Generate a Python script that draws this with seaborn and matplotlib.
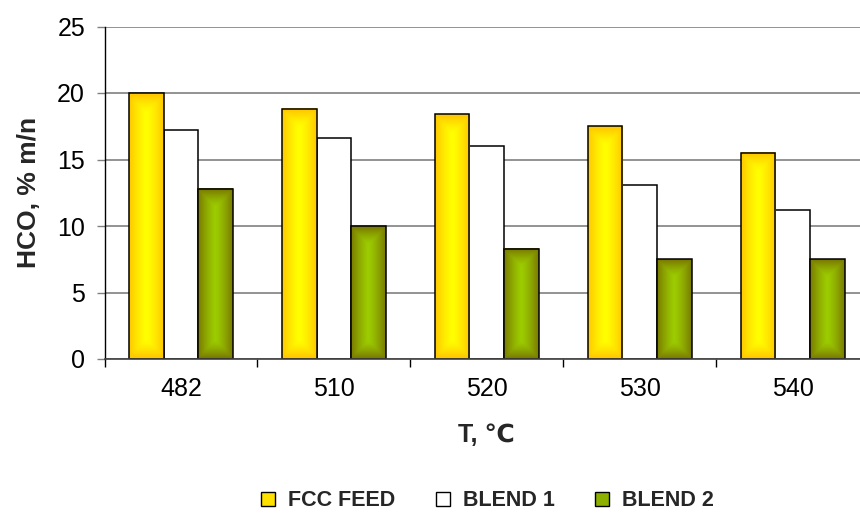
import numpy as np
import pandas as pd
import matplotlib
matplotlib.use("Agg")
import matplotlib.pyplot as plt
from matplotlib.colors import to_rgb
from matplotlib.patches import Patch
import seaborn as sns

# ---- data ----
temps = ["482", "510", "520", "530", "540"]
series_names = ["FCC FEED", "BLEND 1", "BLEND 2"]
fcc_feed = [20.0, 18.8, 18.4, 17.5, 15.5]
blend1 = [17.2, 16.6, 16.0, 13.1, 11.2]
blend2 = [12.8, 10.0, 8.3, 7.5, 7.5]
y_ticks = [0, 5, 10, 15, 20, 25]

df = pd.DataFrame({
    "T": temps * 3,
    "series": [series_names[0]] * 5 + [series_names[1]] * 5 + [series_names[2]] * 5,
    "HCO": fcc_feed + blend1 + blend2,
})

sns.set_theme(style="white")
plt.rcParams["font.family"] = ["Liberation Sans", "DejaVu Sans"]

fig = plt.figure(figsize=(8.6, 5.23), dpi=100)
ax = fig.add_axes([104.5 / 860, (523 - 359) / 523, (869 - 104.5) / 860, (359 - 26.5) / 523])

base_colors = {"FCC FEED": "#FFE100", "BLEND 1": "#FFFFFF", "BLEND 2": "#8DB000"}
sns.barplot(data=df, x="T", y="HCO", hue="series", order=temps, hue_order=series_names,
            palette=base_colors, width=0.68, edgecolor="black", linewidth=1.1,
            saturation=1, legend=False, ax=ax)

# gradients (Excel-like "from center")
grad = {
    "FCC FEED": (to_rgb("#FFFF00"), to_rgb("#FFC800")),
    "BLEND 2": (to_rgb("#9CCC00"), to_rgb("#7A7A00")),
}
n = 60
u = np.linspace(0, 1, n)
U, V = np.meshgrid(u, u)
for name, cont in zip(series_names, ax.containers):
    if name not in grad:
        continue
    c_in, c_out = np.array(grad[name][0]), np.array(grad[name][1])
    for p in cont.patches:
        x, y = p.get_x(), p.get_y()
        w, h = p.get_width(), p.get_height()
        hpx = h * 13.28
        wpx = 35.0
        dx = np.abs(2 * U - 1)
        dy = np.abs(2 * V - 1)
        half_w, half_h = wpx / 2, hpx / 2
        rem = np.minimum(half_w - dx * half_w, half_h - dy * half_h)
        t = 1 - np.clip(rem / half_w, 0, 1)
        t = t ** 1.3
        img = c_in[None, None, :] * (1 - t[..., None]) + c_out[None, None, :] * t[..., None]
        ax.imshow(img, extent=[x, x + w, y, y + h], aspect="auto", origin="lower",
                  zorder=p.get_zorder() + 0.1, interpolation="bilinear")
        p.set_facecolor("none")
        p.set_zorder(p.get_zorder() + 0.2)

ax.set_xlim(-0.5, 4.5)
ax.set_ylim(0, 25)
ax.set_yticks(y_ticks)
ax.set_yticklabels([str(v) for v in y_ticks])
ax.grid(axis="y", color="#808080", linewidth=1.2)
ax.grid(axis="x", visible=False)
ax.set_axisbelow(True)

for s in ["top", "right"]:
    ax.spines[s].set_visible(False)
ax.spines["left"].set_color("black")
ax.spines["left"].set_linewidth(1.0)
ax.spines["bottom"].set_color("#404040")
ax.spines["bottom"].set_linewidth(1.2)

ax.tick_params(axis="y", which="major", direction="out", length=6, width=1, color="#808080",
               labelsize=18, pad=8, left=True, labelcolor="black")
ax.tick_params(axis="x", which="major", length=0, labelsize=18, pad=13, labelcolor="black")
ax.set_xticks(np.arange(-0.5, 5.0, 1.0), minor=True)
ax.tick_params(axis="x", which="minor", direction="out", length=6, width=1, color="black", bottom=True)

ax.set_xlabel("T, ℃", fontsize=18, fontweight="bold", labelpad=16)
ax.set_ylabel("HCO, % m/n", fontsize=19, fontweight="bold", labelpad=12)

handles = [Patch(facecolor="#FFE100", edgecolor="black", linewidth=1.0),
           Patch(facecolor="#FFFFFF", edgecolor="black", linewidth=1.0),
           Patch(facecolor="#8DB000", edgecolor="black", linewidth=1.0)]
fig.legend(handles, series_names, loc="center", bbox_to_anchor=(487.5 / 860, 1 - 501 / 523),
           ncol=3, frameon=False, handlelength=0.65, handleheight=0.65, handletextpad=0.6,
           columnspacing=1.9, prop={"weight": "bold", "size": 15.5})

fig.savefig("out.png", dpi=100)
